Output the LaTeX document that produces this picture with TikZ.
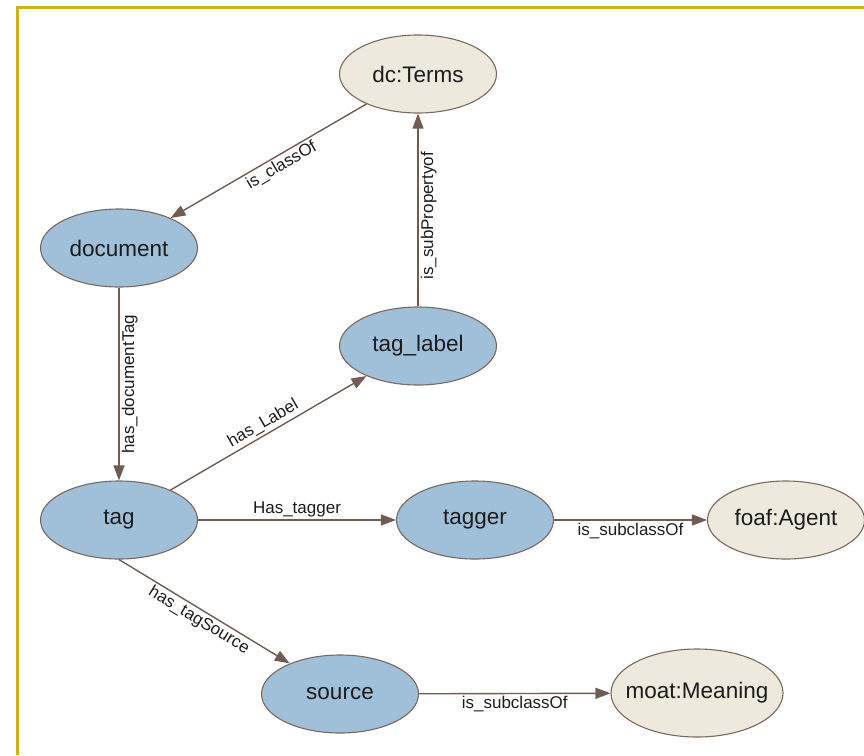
\documentclass[tikz,border=0pt]{standalone}
\usepackage{fontspec}
\setmainfont{Liberation Sans}
\usetikzlibrary{shapes.geometric,arrows.meta}
\definecolor{frameGold}{RGB}{206,178,22}
\definecolor{classBlue}{RGB}{160,191,217}
\definecolor{vocabBeige}{RGB}{237,234,221}
\definecolor{rimBrown}{RGB}{122,104,94}
\definecolor{edgeBrown}{RGB}{112,92,82}
\definecolor{inkDark}{RGB}{28,28,28}
\tikzset{
  concept/.style={ellipse, draw=rimBrown, line width=1.1pt, inner sep=0pt,
    minimum width=157pt, minimum height=78pt, text=inkDark,
    font=\fontsize{22.5}{26}\selectfont},
  localcls/.style={concept, fill=classBlue},
  vocab/.style={concept, fill=vocabBeige},
  relation/.style={draw=edgeBrown, line width=1.4pt,
    -{Triangle[length=15pt,width=11pt]}},
  rellabel/.style={text=inkDark, inner sep=2pt,
    font=\fontsize{17}{20}\selectfont}
}
\begin{document}
\begin{tikzpicture}[x=1pt,y=-1pt]
  \useasboundingbox (0,0) rectangle (864,755);
  % frame along the top and left edges
  \draw[frameGold, line width=3pt] (17.5,755) -- (17.5,7.5) -- (864,7.5);

  % concepts
  \node[vocab]    (terms)   at (418,74)  {dc:Terms};
  \node[localcls] (doc)     at (119,248) {document};
  \node[localcls] (label)   at (418,346) {tag\_label};
  \node[localcls] (tag)     at (119,520) {tag};
  \node[localcls] (tagger)  at (475,520) {tagger};
  \node[vocab]    (agent)   at (786,520) {foaf:Agent};
  \node[localcls] (source)  at (340,694) {source};
  \node[vocab, inner xsep=-11pt, minimum width=172pt, minimum height=88pt]
                  (meaning) at (697,693) {moat:Meaning};

  % relations
  \draw[relation] (terms) -- node[rellabel, sloped, below, pos=0.46] {is\_classOf} (doc);
  \draw[relation] (label) -- node[rellabel, sloped, below, pos=0.47] {is\_subPropertyof} (terms);
  \draw[relation] (doc) -- node[rellabel, rotate=90, anchor=north] {has\_documentTag} (tag);
  \draw[relation] (tag) -- node[rellabel, sloped, above] {has\_Label} (label);
  \draw[relation] (tag) -- node[rellabel, above] {Has\_tagger} (tagger);
  \draw[relation] (tagger) -- node[rellabel, below] {is\_subclassOf} (agent);
  \draw[relation] (tag.south) -- node[rellabel, sloped, below, pos=0.5] {has\_tagSource} (source);
  \draw[relation] (source) -- node[rellabel, below] {is\_subclassOf} (meaning);
\end{tikzpicture}
\end{document}
